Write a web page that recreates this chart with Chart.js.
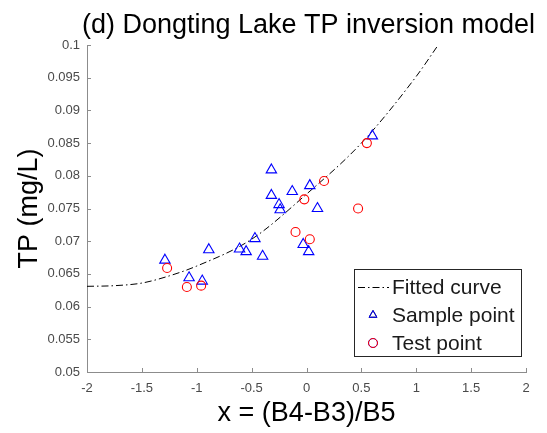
<!DOCTYPE html>
<html>
<head>
<meta charset="utf-8">
<script src="https://cdn.jsdelivr.net/npm/chart.js@4"></script>
<style>
  body { margin: 0; background: #fff; }
  canvas { display: block; }
</style>
</head>
<body>
<canvas id="tpChart" width="547" height="433"></canvas>
<script>
// values
const sampleX = [-1.29, -1.07, -0.95, -0.89, -0.61, -0.55, -0.47, -0.40, -0.32, -0.32, -0.25, -0.24, -0.13, 0.03, 0.10, -0.03, 0.02, 0.60];
const sampleY = [0.0671, 0.0644, 0.0639, 0.0687, 0.0688, 0.0684, 0.0704, 0.0677, 0.0809, 0.0770, 0.0756, 0.0748, 0.0776, 0.0785, 0.0750, 0.0695, 0.0684, 0.0861];

const testX = [-1.27, -1.09, -0.96, -0.10, -0.02, 0.03, 0.16, 0.47, 0.55];
const testY = [0.0659, 0.0630, 0.0632, 0.0714, 0.0764, 0.0703, 0.0792, 0.0750, 0.0850];

// points
const curveX = [-2, -1.75, -1.5, -1.25, -1, -0.5, 0, 0.5, 1, 1.2];
const curveY = [0.0631, 0.0632, 0.0636, 0.0647, 0.0662, 0.0703, 0.0772, 0.0850, 0.0952, 0.1];

const xTickLabels = ["-2", "-1.5", "-1", "-0.5", "0", "0.5", "1", "1.5", "2"];
const yTickLabels = ["0.05", "0.055", "0.06", "0.065", "0.07", "0.075", "0.08", "0.085", "0.09", "0.095", "0.1"];
const legendLabels = ["Fitted curve", "Sample point", "Test point"];

const toPoints = (xs, ys) => xs.map((x, i) => ({ x: x, y: ys[i] }));

const axisGray = "#8c8c8c";
const tickGray = "#4a4a4a";
const bigFont = "Liberation Sans, Arial, sans-serif";

// inward tick marks, MATLAB style
const innerTicks = {
  id: "innerTicks",
  afterDraw(chart) {
    const c = chart.ctx;
    const xs = chart.scales.x;
    const ys = chart.scales.y;
    const area = chart.chartArea;
    c.save();
    c.strokeStyle = axisGray;
    c.lineWidth = 1;
    c.beginPath();
    xs.ticks.forEach((t) => {
      const px = Math.round(xs.getPixelForValue(t.value)) + 0.5;
      c.moveTo(px, area.bottom);
      c.lineTo(px, area.bottom - 4);
    });
    ys.ticks.forEach((t) => {
      const py = Math.round(ys.getPixelForValue(t.value)) + 0.5;
      c.moveTo(area.left, py);
      c.lineTo(area.left + 4, py);
    });
    c.stroke();
    c.restore();
  },
};

// title and legend box drawn on top
const titleAndLegend = {
  id: "titleAndLegend",
  afterDraw(chart) {
    const c = chart.ctx;
    const area = chart.chartArea;
    c.save();
    c.fillStyle = "#000";
    c.font = "27px " + bigFont;
    c.textAlign = "center";
    c.textBaseline = "alphabetic";
    c.fillText("(d) Dongting Lake TP inversion model", (area.left + area.right) / 2 + 2, 33);

    // legend
    const bx = 354, by = 269, bw = 167, bh = 87;
    c.fillStyle = "#fff";
    c.fillRect(bx, by, bw, bh);
    c.strokeStyle = "#262626";
    c.lineWidth = 1;
    c.strokeRect(bx + 0.5, by + 0.5, bw, bh);

    const rows = [287, 315, 343];
    const ds = chart.data.datasets;
    // line sample
    c.strokeStyle = ds[0].borderColor;
    c.setLineDash(ds[0].borderDash);
    c.beginPath();
    c.moveTo(358, rows[0] + 0.5);
    c.lineTo(389, rows[0] + 0.5);
    c.stroke();
    c.setLineDash([]);
    // markers
    [1, 2].forEach((k) => {
      Chart.helpers.drawPoint(c, {
        pointStyle: ds[k].pointStyle,
        radius: 4.5,
        borderWidth: 1,
      }, 373, rows[k]);
      c.strokeStyle = ds[k].borderColor;
      c.stroke();
    });

    c.fillStyle = "#1a1a1a";
    c.font = "21px " + bigFont;
    c.textAlign = "left";
    c.textBaseline = "middle";
    legendLabels.forEach((lab, i) => c.fillText(lab, 392, rows[i] + 1));
    c.restore();
  },
};

new Chart(document.getElementById("tpChart"), {
  type: "scatter",
  data: {
    datasets: [
      {
        label: legendLabels[0],
        data: toPoints(curveX, curveY),
        showLine: true,
        borderColor: "#000",
        borderWidth: 1,
        borderDash: [7, 3, 1.5, 3],
        pointRadius: 0,
        cubicInterpolationMode: "monotone",
        order: 3,
      },
      {
        label: legendLabels[1],
        data: toPoints(sampleX, sampleY),
        pointStyle: "triangle",
        pointRadius: 6,
        borderColor: "#0000ff",
        backgroundColor: "rgba(0,0,0,0)",
        borderWidth: 1.1,
        order: 2,
      },
      {
        label: legendLabels[2],
        data: toPoints(testX, testY),
        pointStyle: "circle",
        pointRadius: 4.5,
        borderColor: "#ff0000",
        backgroundColor: "rgba(0,0,0,0)",
        borderWidth: 1.1,
        order: 1,
      },
    ],
  },
  options: {
    responsive: false,
    devicePixelRatio: 1,
    animation: false,
    layout: { padding: { top: 45, right: 21, left: 0, bottom: 0 } },
    plugins: {
      legend: { display: false },
      tooltip: { enabled: false },
    },
    scales: {
      x: {
        type: "linear",
        min: -2,
        max: 2,
        afterFit: (s) => { s.height = 61; },
        ticks: {
          stepSize: 0.5,
          color: tickGray,
          font: { size: 13, family: bigFont },
          padding: 9,
          maxRotation: 0,
          autoSkip: false,
          callback: (v, i) => xTickLabels[i],
        },
        grid: { drawOnChartArea: false, drawTicks: false },
        border: { display: true, color: axisGray, width: 1 },
        title: {
          display: true,
          text: "x = (B4-B3)/B5",
          color: "#000",
          font: { size: 27, family: bigFont, lineHeight: 1 },
          padding: { top: 0, bottom: 6 },
        },
      },
      y: {
        type: "linear",
        min: 0.05,
        max: 0.1,
        afterFit: (s) => { s.width = 87; },
        ticks: {
          stepSize: 0.005,
          color: tickGray,
          font: { size: 13, family: bigFont },
          padding: 7,
          autoSkip: false,
          callback: (v, i) => yTickLabels[i],
        },
        grid: { drawOnChartArea: false, drawTicks: false },
        border: { display: true, color: axisGray, width: 1 },
        title: {
          display: true,
          text: "TP (mg/L)",
          color: "#000",
          font: { size: 27, family: bigFont, lineHeight: 1 },
          padding: { top: 16, bottom: 0 },
        },
      },
    },
  },
  plugins: [innerTicks, titleAndLegend],
});
</script>
</body>
</html>
